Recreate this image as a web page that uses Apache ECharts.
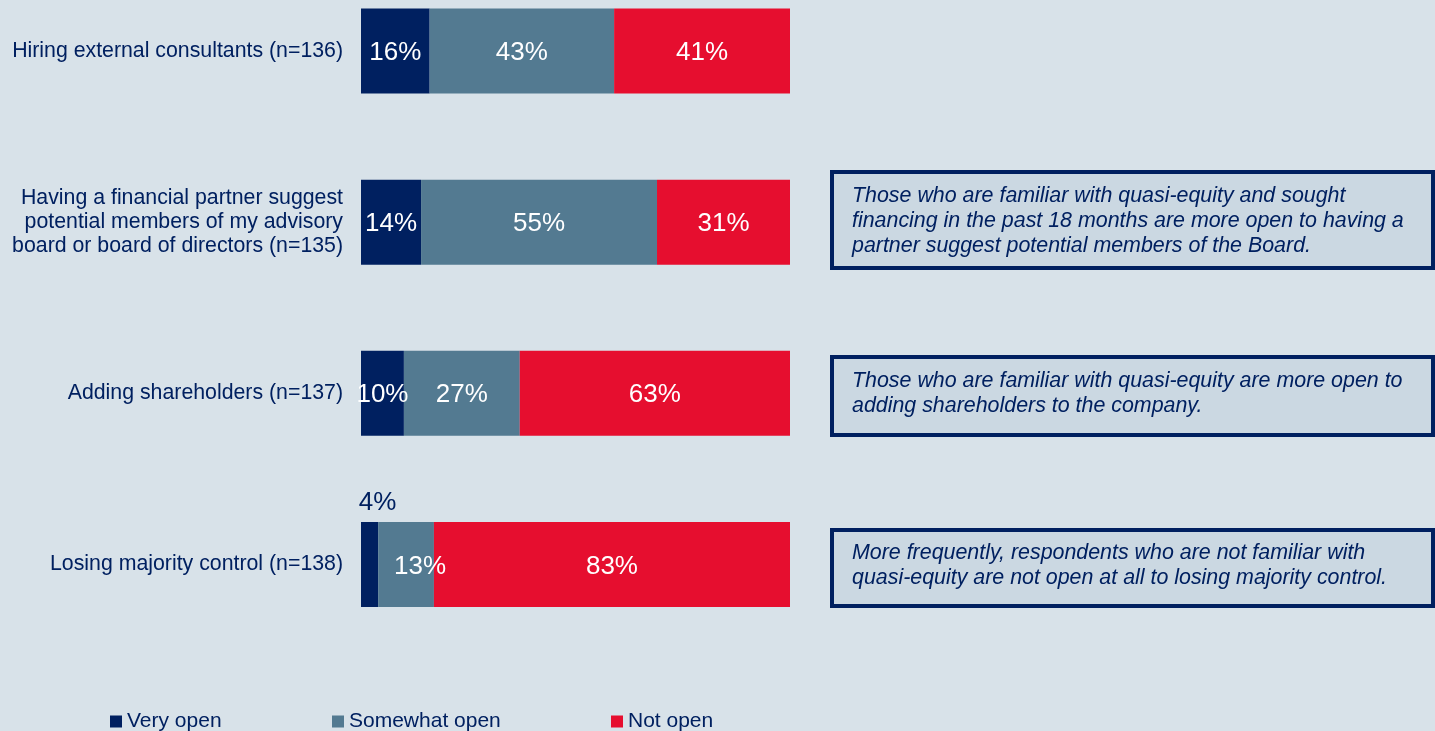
<!DOCTYPE html>
<html>
<head>
<meta charset="utf-8">
<title>Openness to financing conditions</title>
<script src="https://cdn.jsdelivr.net/npm/echarts@6/dist/echarts.min.js"></script>
<style>
  html, body { margin: 0; padding: 0; background: #d8e2e9; }
  #chart { width: 1435px; height: 731px; }
</style>
</head>
<body>
<div id="chart"></div>
<script>
// Survey items (top to bottom)
const categories = [
  'Hiring external consultants (n=136)',
  'Having a financial partner suggest\npotential members of my advisory\nboard or board of directors (n=135)',
  'Adding shareholders (n=137)',
  'Losing majority control (n=138)'
];

// Share of respondents per answer, in percent
const veryOpen = [16, 14, 10, 4];
const somewhatOpen = [43, 55, 27, 13];
const notOpen = [41, 31, 63, 83];

const seriesNames = ['Very open', 'Somewhat open', 'Not open'];

// Side notes shown next to the bars
const notes = [
  'Those who are familiar with quasi-equity and sought\nfinancing in the past 18 months are more open to having a\npartner suggest potential members of the Board.',
  'Those who are familiar with quasi-equity are more open to\nadding shareholders to the company.',
  'More frequently, respondents who are not familiar with\nquasi-equity are not open at all to losing majority control.'
];

const NAVY = '#002060';
const SLATE = '#537a91';
const RED = '#e60e2f';
const FONT = '"Liberation Sans", Arial, sans-serif';

const chart = echarts.init(document.getElementById('chart'));

const barLabel = {
  show: true,
  position: 'inside',
  formatter: '{c}%',
  color: '#ffffff',
  fontSize: 26,
  fontFamily: FONT,
  offset: [0, 2]
};

// Narrow segments get their label nudged so it stays legible
function buildData(values, overrides) {
  return values.map((v, i) => overrides && overrides[i] ? { value: v, label: overrides[i] } : v);
}

function makeSeries(name, values, color, overrides) {
  return {
    name: name,
    type: 'bar',
    stack: 'total',
    barWidth: 85,
    itemStyle: { color: color },
    label: barLabel,
    emphasis: { disabled: true },
    data: buildData(values, overrides)
  };
}

function legend(name, left) {
  return {
    data: [name],
    left: left,
    top: 711,
    icon: 'rect',
    itemWidth: 12,
    itemHeight: 12,
    padding: 0,
    selectedMode: false,
    textStyle: { color: NAVY, fontSize: 21, fontFamily: FONT }
  };
}

// Note boxes: outline + italic text
const noteBoxes = [
  { y: 172, h: 96, textY: 184 },
  { y: 357, h: 78, textY: 369 },
  { y: 530, h: 76, textY: 541 }
];

const graphics = [];
noteBoxes.forEach((b, i) => {
  graphics.push({
    type: 'rect',
    shape: { x: 832, y: b.y, width: 601, height: b.h },
    style: { fill: '#cbd8e2', stroke: NAVY, lineWidth: 4 },
    silent: true
  });
  graphics.push({
    type: 'text',
    x: 852,
    y: b.textY,
    style: {
      text: notes[i],
      fill: NAVY,
      font: 'italic 21.4px ' + FONT,
      lineHeight: 25
    },
    silent: true
  });
});

chart.setOption({
  backgroundColor: '#d8e2e9',
  animation: false,
  grid: { left: 361, width: 429, top: -34.5, height: 684.5, outerBoundsMode: 'none', containLabel: false },
  xAxis: { type: 'value', min: 0, max: 100, show: false },
  yAxis: {
    type: 'category',
    inverse: true,
    data: categories,
    axisLine: { show: false },
    axisTick: { show: false },
    splitLine: { show: false },
    axisLabel: {
      margin: 18,
      color: NAVY,
      fontSize: 21.3,
      lineHeight: 24,
      fontFamily: FONT,
      align: 'right'
    }
  },
  legend: [
    legend(seriesNames[0], 110),
    legend(seriesNames[1], 332),
    legend(seriesNames[2], 611)
  ],
  series: [
    makeSeries(seriesNames[0], veryOpen, NAVY, { 3: { position: 'top', color: NAVY, offset: [8, 0], distance: 6 } }),
    makeSeries(seriesNames[1], somewhatOpen, SLATE, { 3: { offset: [14, 2] } }),
    makeSeries(seriesNames[2], notOpen, RED)
  ],
  graphic: graphics
});
</script>
</body>
</html>
